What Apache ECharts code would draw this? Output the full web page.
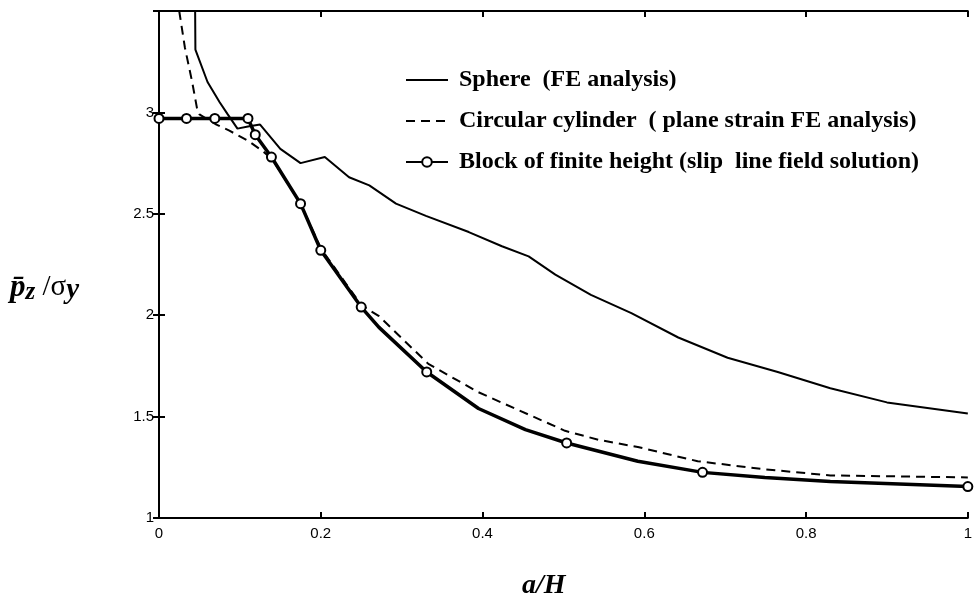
<!DOCTYPE html>
<html><head><meta charset="utf-8">
<script src="https://cdn.jsdelivr.net/npm/echarts@6/dist/echarts.min.js"></script>
<style>html,body{margin:0;padding:0;background:#fff}#c{width:975px;height:605px}</style>
</head><body><div id="c"></div>
<script>
const xTicks = [0, 0.2, 0.4, 0.6, 0.8, 1];
const yTicks = [1, 1.5, 2, 2.5, 3];

const sphereX = [0.044, 0.045, 0.06, 0.075, 0.085, 0.097, 0.11, 0.125, 0.15, 0.175, 0.205, 0.235, 0.26, 0.293, 0.33, 0.383, 0.424, 0.457, 0.49, 0.534, 0.584, 0.642, 0.703, 0.765, 0.83, 0.9, 1.0];
const sphereY = [3.9, 3.31, 3.15, 3.05, 2.99, 2.92, 2.93, 2.94, 2.82, 2.75, 2.78, 2.68, 2.64, 2.55, 2.49, 2.41, 2.34, 2.29, 2.20, 2.10, 2.01, 1.89, 1.79, 1.72, 1.64, 1.57, 1.515];

const cylX = [0.025, 0.032, 0.041, 0.047, 0.05, 0.071, 0.087, 0.11, 0.128, 0.14, 0.175, 0.2, 0.25, 0.272, 0.333, 0.395, 0.502, 0.543, 0.592, 0.666, 0.749, 0.83, 1.0];
const cylY = [3.5, 3.32, 3.15, 3.02, 2.99, 2.94, 2.91, 2.86, 2.81, 2.77, 2.55, 2.33, 2.05, 1.995, 1.76, 1.62, 1.43, 1.386, 1.35, 1.28, 1.24, 1.21, 1.20];

const blockX = [0, 0.034, 0.069, 0.11, 0.119, 0.139, 0.175, 0.2, 0.25, 0.272, 0.331, 0.395, 0.453, 0.504, 0.592, 0.672, 0.749, 0.83, 1.0];
const blockY = [2.97, 2.97, 2.97, 2.97, 2.89, 2.78, 2.55, 2.32, 2.04, 1.94, 1.72, 1.54, 1.436, 1.37, 1.28, 1.225, 1.20, 1.18, 1.155];
const blockMarked = [1, 1, 1, 1, 1, 1, 1, 1, 1, 0, 1, 0, 0, 1, 0, 1, 0, 0, 1];

const names = ['Sphere  (FE analysis)', 'Circular cylinder  ( plane strain FE analysis)', 'Block of finite height (slip  line field solution)'];

const zip = (a, b) => a.map((v, i) => [v, b[i]]);
const blockData = blockX.map((v, i) => blockMarked[i] ? { value: [v, blockY[i]] } : { value: [v, blockY[i]], symbol: 'none' });

const chart = echarts.init(document.getElementById('c'), null, { renderer: 'canvas' });
const axisLbl = { color: '#000', fontFamily: 'Liberation Sans', fontSize: 15 };
chart.setOption({
  animation: false,
  backgroundColor: '#fff',
  grid: { left: 159, right: 4, top: 11, bottom: 87 },
  legend: {
    orient: 'vertical', left: 400, top: 63, itemWidth: 42, itemHeight: 12, itemGap: 17,
    textStyle: { fontFamily: 'Liberation Serif', fontWeight: 'bold', fontSize: 24, color: '#000', padding: [0, 0, 0, 6] },
    data: [
      { name: names[0], itemStyle: { opacity: 0 } },
      { name: names[1], itemStyle: { opacity: 0 } },
      { name: names[2] }
    ]
  },
  xAxis: [{
    type: 'value', min: 0, max: 1, interval: 0.2,
    axisLine: { lineStyle: { color: '#000', width: 2 } },
    axisTick: { inside: true, length: 6, lineStyle: { color: '#000', width: 2 } },
    axisLabel: Object.assign({ margin: 8, formatter: v => xTicks.includes(+v.toFixed(2)) ? String(+v.toFixed(2)) : '' }, axisLbl),
    splitLine: { show: false }
  }, {
    type: 'value', min: 0, max: 1, interval: 0.2, position: 'top',
    axisLine: { show: true, lineStyle: { color: '#000', width: 2 } },
    axisTick: { inside: true, length: 6, lineStyle: { color: '#000', width: 2 } },
    axisLabel: { show: false }, splitLine: { show: false }
  }],
  yAxis: [{
    type: 'value', min: 1, max: 3.5, interval: 0.5,
    axisLine: { show: true, lineStyle: { color: '#000', width: 2 } },
    axisTick: { inside: true, length: 6, lineStyle: { color: '#000', width: 2 } },
    axisLabel: Object.assign({ margin: 5, formatter: v => yTicks.includes(+v.toFixed(2)) ? String(+v.toFixed(2)) : '' }, axisLbl),
    splitLine: { show: false }
  }, {
    type: 'value', min: 1, max: 3.5, interval: 0.5, position: 'right',
    axisLine: { show: true, lineStyle: { color: '#000', width: 2 } },
    axisTick: { inside: true, length: 6, lineStyle: { color: '#000', width: 2 } },
    axisLabel: { show: false }, splitLine: { show: false }
  }],
  series: [{
    name: names[0], type: 'line', data: zip(sphereX, sphereY), symbol: 'none',
    lineStyle: { color: '#000', width: 2 }, itemStyle: { color: '#000' }, clip: true
  }, {
    name: names[1], type: 'line', data: zip(cylX, cylY), symbol: 'none',
    lineStyle: { color: '#000', width: 2, type: [9, 6] }, itemStyle: { color: '#000' }, clip: true
  }, {
    name: names[2], type: 'line', data: blockData, symbol: 'circle', symbolSize: 9, showAllSymbol: true,
    lineStyle: { color: '#000', width: 3.5 }, itemStyle: { color: '#fff', borderColor: '#000', borderWidth: 2 }, clip: false, z: 3
  }],
  graphic: [{
    type: 'text', left: 10, top: 272,
    style: {
      text: '{p|p̄}{z|z}{s| /σ}{y|y}',
      rich: {
        p: { fontFamily: 'Liberation Serif', fontWeight: 'bold', fontStyle: 'italic', fontSize: 31, fill: '#000' },
        z: { fontFamily: 'Liberation Serif', fontWeight: 'bold', fontStyle: 'italic', fontSize: 25, fill: '#000', verticalAlign: 'bottom', padding: [10, 0, 0, 0] },
        s: { fontFamily: 'Liberation Serif', fontSize: 29, fill: '#000' },
        y: { fontFamily: 'Liberation Serif', fontWeight: 'bold', fontStyle: 'italic', fontSize: 29, fill: '#000', padding: [6, 0, 0, 0] }
      }
    }
  }, {
    type: 'text', left: 522, top: 572,
    style: { text: 'a/H', fontFamily: 'Liberation Serif', fontWeight: 'bold', fontStyle: 'italic', fontSize: 28, fill: '#000' }
  }]
});
</script></body></html>
